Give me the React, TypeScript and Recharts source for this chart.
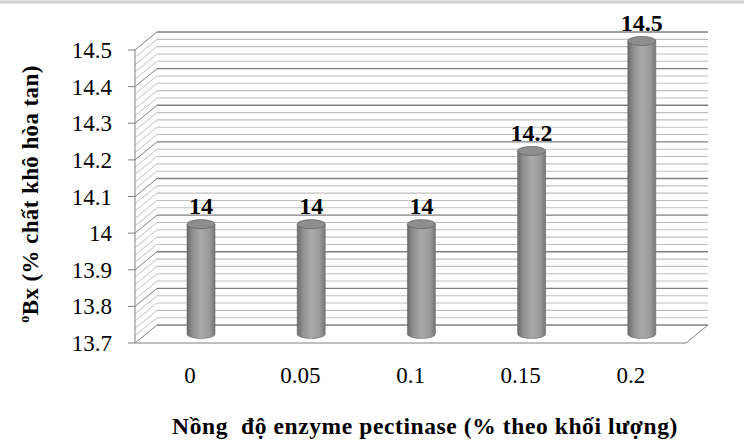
import { Bar, BarChart, CartesianGrid, LabelList, XAxis, YAxis } from "recharts";

const categories = ["0", "0.05", "0.1", "0.15", "0.2"];
const brix = [14, 14, 14, 14.2, 14.5];
const majorTicks = [13.7, 13.8, 13.9, 14, 14.1, 14.2, 14.3, 14.4, 14.5];
// 4 minor lines between each pair of major ticks
const minorTicks = majorTicks.flatMap((t, i) =>
  i === majorTicks.length - 1 ? [t] : [0, 1, 2, 3, 4].map((k) => +(t + k * 0.02).toFixed(2)),
);

const data = categories.map((c, i) => ({ name: c, value: brix[i] }));

const W = 755;
const H = 448;
const DX = 22; // depth offset of the back wall
const DY = 18;
const FONT = '"Liberation Serif", "Times New Roman", "DejaVu Serif", serif';
const serif = { fontFamily: FONT };

function GridLine(p: any) {
  const { x1, x2, y1, index } = p;
  const major = index % 5 === 0;
  const c = major ? "#808080" : "#c0c0c0";
  return (
    <g key={`g-${index}`}>
      <line x1={x1} y1={y1} x2={x1 + DX} y2={y1 - DY} stroke={c} strokeWidth={1} />
      <line x1={x1 + DX} y1={y1 - DY} x2={x2 + DX} y2={y1 - DY} stroke={c} strokeWidth={major ? 1.4 : 1.1} />
      {index === 0 && <line x1={x2} y1={y1} x2={x2 + DX} y2={y1 - DY} stroke="#808080" />}
    </g>
  );
}

function Cylinder(p: any) {
  const { x, y, width, height } = p;
  const rx = width / 2;
  const ry = 4.5;
  const cx = x + rx + DX / 2;
  const top = y - DY / 2;
  const bottom = y + height - DY / 2;
  return (
    <g>
      <path
        d={`M${cx - rx},${top} L${cx - rx},${bottom} A${rx},${ry} 0 0 0 ${cx + rx},${bottom} L${cx + rx},${top} Z`}
        fill="url(#cyl)"
        stroke="#6a6a6a"
        strokeWidth={0.6}
      />
      <ellipse cx={cx} cy={top} rx={rx} ry={ry} fill="#8e8e8e" stroke="#666" strokeWidth={0.8} />
    </g>
  );
}

function ValueLabel(p: any) {
  const { x, y, width, value } = p;
  return (
    <text x={x + width / 2 + DX / 2} y={y - 19} textAnchor="middle" style={serif} fontWeight="bold" fontSize={24} fill="#000">
      {value}
    </text>
  );
}

function YTick(p: any) {
  const { x, y, payload } = p;
  return (
    <text x={x} y={y} dy="0.35em" textAnchor="end" style={serif} fontSize={23} fill="#000">
      {payload.value}
    </text>
  );
}

function XTick(p: any) {
  const { x, y, payload } = p;
  return (
    <text x={x} y={y} dy="0.71em" textAnchor="middle" style={serif} fontSize={23} fill="#000">
      {payload.value}
    </text>
  );
}

export default function App() {
  return (
    <div style={{ position: "absolute", left: 0, top: 0, width: W, height: H, background: "#fff" }}>
      <svg width={W} height={6} style={{ position: "absolute", left: 0, top: 0 }}>
        <line x1={0} y1={2} x2={744} y2={2} stroke="#cfcfcf" strokeWidth={3} />
      </svg>
      <BarChart width={W} height={H} data={data} margin={{ top: 50, right: 69, bottom: 0, left: 0 }} barSize={28}>
        <defs>
          <linearGradient id="cyl" x1="0" y1="0" x2="1" y2="0">
            <stop offset="0%" stopColor="#6a6a6a" />
            <stop offset="20%" stopColor="#8f8f8f" />
            <stop offset="50%" stopColor="#a9a9a9" />
            <stop offset="80%" stopColor="#9a9a9a" />
            <stop offset="100%" stopColor="#777" />
          </linearGradient>
        </defs>
        <YAxis yAxisId="minor" hide domain={[13.7, 14.5]} ticks={minorTicks} interval={0} allowDataOverflow />
        <CartesianGrid yAxisId="minor" vertical={false} horizontal={GridLine} />
        <XAxis
          dataKey="name"
          height={105}
          tickSize={0}
          tickMargin={24}
          tick={XTick}
          axisLine={{ stroke: "#808080" }}
          label={{
            content: ({ viewBox }: any) => (
              <text
                x={425}
                y={viewBox.y + 91}
                textAnchor="middle"
                style={{ ...serif, whiteSpace: "pre", letterSpacing: 0.6 }}
                fontWeight="bold"
                fontSize={23.5}
                fill="#000"
              >
                {"Nồng  độ enzyme pectinase (% theo khối lượng)"}
              </text>
            ),
          }}
        />
        <YAxis
          width={135}
          domain={[13.7, 14.5]}
          ticks={majorTicks}
          interval={0}
          tickSize={7}
          tickMargin={16}
          tick={YTick}
          axisLine={{ stroke: "#808080" }}
          tickLine={{ stroke: "#808080" }}
          label={{
            content: () => (
              <text
                transform="translate(38,194) rotate(-90)"
                textAnchor="middle"
                style={{ ...serif, letterSpacing: 0.4 }}
                fontWeight="bold"
                fontSize={23}
                fill="#000"
              >
                <tspan fontSize={14} dy={-9}>o</tspan>
                <tspan dy={9}>Bx (% chất khô hòa tan)</tspan>
              </text>
            ),
          }}
        />
        <Bar dataKey="value" shape={Cylinder} isAnimationActive={false}>
          <LabelList dataKey="value" content={ValueLabel} />
        </Bar>
      </BarChart>
    </div>
  );
}
